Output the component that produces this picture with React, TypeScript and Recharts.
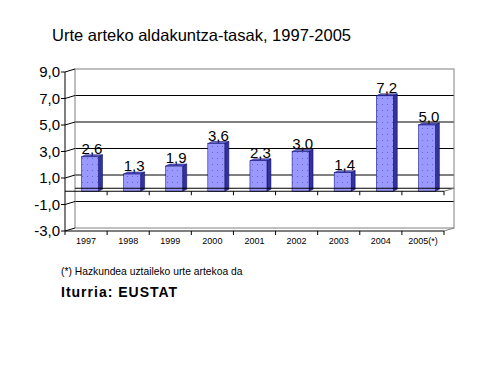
import React from 'react';
import {
  BarChart,
  Bar,
  XAxis,
  YAxis,
  CartesianGrid,
  ReferenceArea,
  ReferenceLine,
  LabelList,
} from 'recharts';

// Urte arteko aldakuntza-tasak, 1997-2005 (EUSTAT)
const categories = ['1997', '1998', '1999', '2000', '2001', '2002', '2003', '2004', '2005(*)'];
const rates = [2.6, 1.3, 1.9, 3.6, 2.3, 3.0, 1.4, 7.2, 5.0];
const yTicks = [-3, -1, 1, 3, 5, 7, 9];
const gridValues = [-1, 1, 3, 5, 7];

const data = categories.map((year, i) => ({ year, rate: rates[i] }));

const FONT = 'Arial, "Liberation Sans", sans-serif';
// 3D depth of the back wall and of the bars
const WALL_DX = 10;
const WALL_DY = 3;
const BAR_DX = 4;
const BAR_DY = 2;
const BAR_SHIFT = 3.5;

const fmt = (v: number) => v.toFixed(1).replace('.', ',');

function Wall(props: any) {
  const { x, y, width, height } = props;
  const bx = x + WALL_DX;
  const by = y - WALL_DY;
  return (
    <g>
      <defs>
        <pattern id="dots" width="5" height="6" patternUnits="userSpaceOnUse">
          <rect width="5" height="6" fill="#9999ff" />
          <rect x="2" y="2" width="1" height="1" fill="#6666cc" />
        </pattern>
      </defs>
      <rect x={bx} y={by} width={width} height={height} fill="none" stroke="#808080" />
      <line x1={x + width} y1={y + height} x2={bx + width} y2={by + height} stroke="#808080" />
    </g>
  );
}

function GridLine(props: any) {
  const { x1, y1, x2, y2 } = props;
  return <line x1={x1 + WALL_DX} y1={y1 - WALL_DY} x2={x2 + WALL_DX} y2={y2 - WALL_DY} stroke="#000" />;
}

function Floor(props: any) {
  const { x1, y1, x2 } = props;
  const n = categories.length;
  const step = (x2 - x1) / n;
  return (
    <g>
      <line x1={x1 + WALL_DX} y1={y1 - WALL_DY} x2={x2 + WALL_DX} y2={y1 - WALL_DY} stroke="#000" />
      <line x1={x1} y1={y1} x2={x2} y2={y1} stroke="#000" />
      <line x1={x2} y1={y1} x2={x2 + WALL_DX} y2={y1 - WALL_DY} stroke="#808080" />
      {categories.map((c, i) => (
        <line key={c} x1={x1 + (i + 1) * step} y1={y1} x2={x1 + (i + 1) * step} y2={y1 + 4} stroke="#000" />
      ))}
    </g>
  );
}

function Bar3D(props: any) {
  const { x, y, width, height } = props;
  const fx = x + BAR_SHIFT;
  return (
    <g>
      <polygon
        points={`${fx + width},${y} ${fx + width + BAR_DX},${y - BAR_DY} ${fx + width + BAR_DX},${y + height - BAR_DY} ${fx + width},${y + height}`}
        fill="#333399"
        stroke="#000066"
        strokeWidth={0.5}
      />
      <polygon
        points={`${fx},${y} ${fx + BAR_DX},${y - BAR_DY} ${fx + width + BAR_DX},${y - BAR_DY} ${fx + width},${y}`}
        fill="#6666cc"
        stroke="#000066"
        strokeWidth={0.5}
      />
      <rect x={fx} y={y} width={width} height={height} fill="url(#dots)" stroke="#000066" strokeWidth={0.5} />
    </g>
  );
}

function YTick(props: any) {
  const { x, y, payload } = props;
  return (
    <g>
      <line x1={x - 4} y1={y} x2={x} y2={y} stroke="#000" />
      <line x1={x} y1={y} x2={x + WALL_DX} y2={y - WALL_DY} stroke="#000" />
      <text x={x - 5} y={y} dy="0.36em" textAnchor="end" fontSize={15} fontFamily={FONT} fill="#000">
        {fmt(payload.value)}
      </text>
    </g>
  );
}

function XTick(props: any) {
  const { x, y, payload, index } = props;
  const half = payload.offset || 21;
  return (
    <g>
      {index === 0 && <line x1={x - half} y1={y} x2={x - half} y2={y + 4} stroke="#000" />}
      <line x1={x + half} y1={y} x2={x + half} y2={y + 4} stroke="#000" />
      <text x={x} y={y + 13} textAnchor="middle" fontSize={9} fontFamily={FONT} fill="#000">
        {payload.value}
      </text>
    </g>
  );
}

function ValueLabel(props: any) {
  const { x, y, width, value } = props;
  return (
    <text
      x={x + BAR_SHIFT + (width + BAR_DX) / 2}
      y={y - 3}
      textAnchor="middle"
      fontSize={15}
      fontFamily={FONT}
      fill="#000"
    >
      {fmt(value)}
    </text>
  );
}

export default function App() {
  return (
    <div style={{ position: 'absolute', left: 0, top: 0, width: 483, height: 369, background: '#fff', fontFamily: FONT }}>
      <div style={{ position: 'absolute', left: 52, top: 27, fontSize: 16.5, lineHeight: '16.5px', whiteSpace: 'nowrap' }}>
        Urte arteko aldakuntza-tasak, 1997-2005
      </div>
      <BarChart
        width={483}
        height={369}
        data={data}
        margin={{ top: 72, right: 39, left: 5, bottom: 118 }}
        barSize={17}
      >
        <ReferenceArea y1={-3} y2={9} shape={<Wall />} fill="none" />
        <CartesianGrid vertical={false} horizontalValues={gridValues} horizontal={(p: any) => <GridLine key={p.key} {...p} />} />
        <XAxis
          dataKey="year"
          height={20}
          interval={0}
          tickSize={0}
          tickMargin={0}
          tickLine={false}
          axisLine={{ stroke: '#000' }}
          tick={<XTick />}
        />
        <YAxis
          domain={[-3, 9]}
          ticks={yTicks}
          width={60}
          interval={0}
          tickSize={0}
          tickMargin={0}
          tickLine={false}
          axisLine={{ stroke: '#000' }}
          tick={<YTick />}
        />
        <ReferenceLine y={0} shape={<Floor />} />
        <Bar dataKey="rate" shape={<Bar3D />} isAnimationActive={false}>
          <LabelList dataKey="rate" content={<ValueLabel />} />
        </Bar>
      </BarChart>
      <div style={{ position: 'absolute', left: 61, top: 265.5, fontSize: 10.3, lineHeight: '12px', whiteSpace: 'nowrap' }}>
        (*) Hazkundea uztaileko urte artekoa da
      </div>
      <div style={{ position: 'absolute', left: 61, top: 284, fontSize: 14, fontWeight: 'bold', letterSpacing: 1, lineHeight: '16px', whiteSpace: 'nowrap' }}>
        Iturria: EUSTAT
      </div>
    </div>
  );
}
